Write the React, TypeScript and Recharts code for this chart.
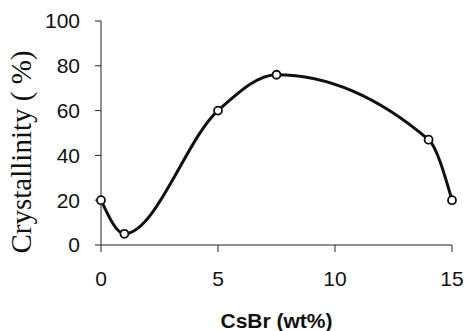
import { LineChart, Line, XAxis, YAxis } from 'recharts'

// CsBr content (wt%) vs crystallinity (%)
const csbr = [0, 1, 5, 7.5, 14, 15]
const crystallinity = [20, 5, 60, 76, 47, 20]
const xTicks = [0, 5, 10, 15]
const yTicks = [0, 20, 40, 60, 80, 100]

const data = csbr.map((x, i) => ({ x, y: crystallinity[i] }))

const tickStyle = { fontSize: 21, fill: '#111', fontFamily: '"Liberation Sans", Arial, sans-serif' }

function YLabel() {
  return (
    <text
      x={31}
      y={152}
      transform="rotate(-90 31 152)"
      textAnchor="middle"
      fontFamily='"Liberation Serif", "Times New Roman", serif'
      fontSize={29}
      fill="#111"
    >
      Crystallinity ( %)
    </text>
  )
}

export default function App() {
  return (
    <div style={{ position: 'absolute', left: 0, top: 0, background: '#fff' }}>
      <LineChart width={467} height={331} data={data} margin={{ top: 21, right: 15, left: 0, bottom: 0 }}>
        <XAxis
          dataKey="x"
          type="number"
          domain={[0, 15]}
          ticks={xTicks}
          tick={tickStyle}
          tickSize={7}
          tickMargin={19}
          height={86}
          stroke="#222"
          label={{
            value: 'CsBr (wt%)',
            position: 'insideBottom',
            offset: 3,
            style: { fontSize: 21, fontWeight: 'bold', fill: '#111', fontFamily: '"Liberation Sans", Arial, sans-serif' },
          }}
        />
        <YAxis
          type="number"
          domain={[0, 100]}
          ticks={yTicks}
          tick={tickStyle}
          tickSize={6}
          tickMargin={15}
          width={101}
          stroke="#222"
          label={<YLabel />}
        />
        <Line
          dataKey="y"
          type="monotone"
          stroke="#111"
          strokeWidth={3}
          dot={{ r: 4, fill: '#fff', stroke: '#111', strokeWidth: 1.8 }}
          isAnimationActive={false}
        />
      </LineChart>
    </div>
  )
}
